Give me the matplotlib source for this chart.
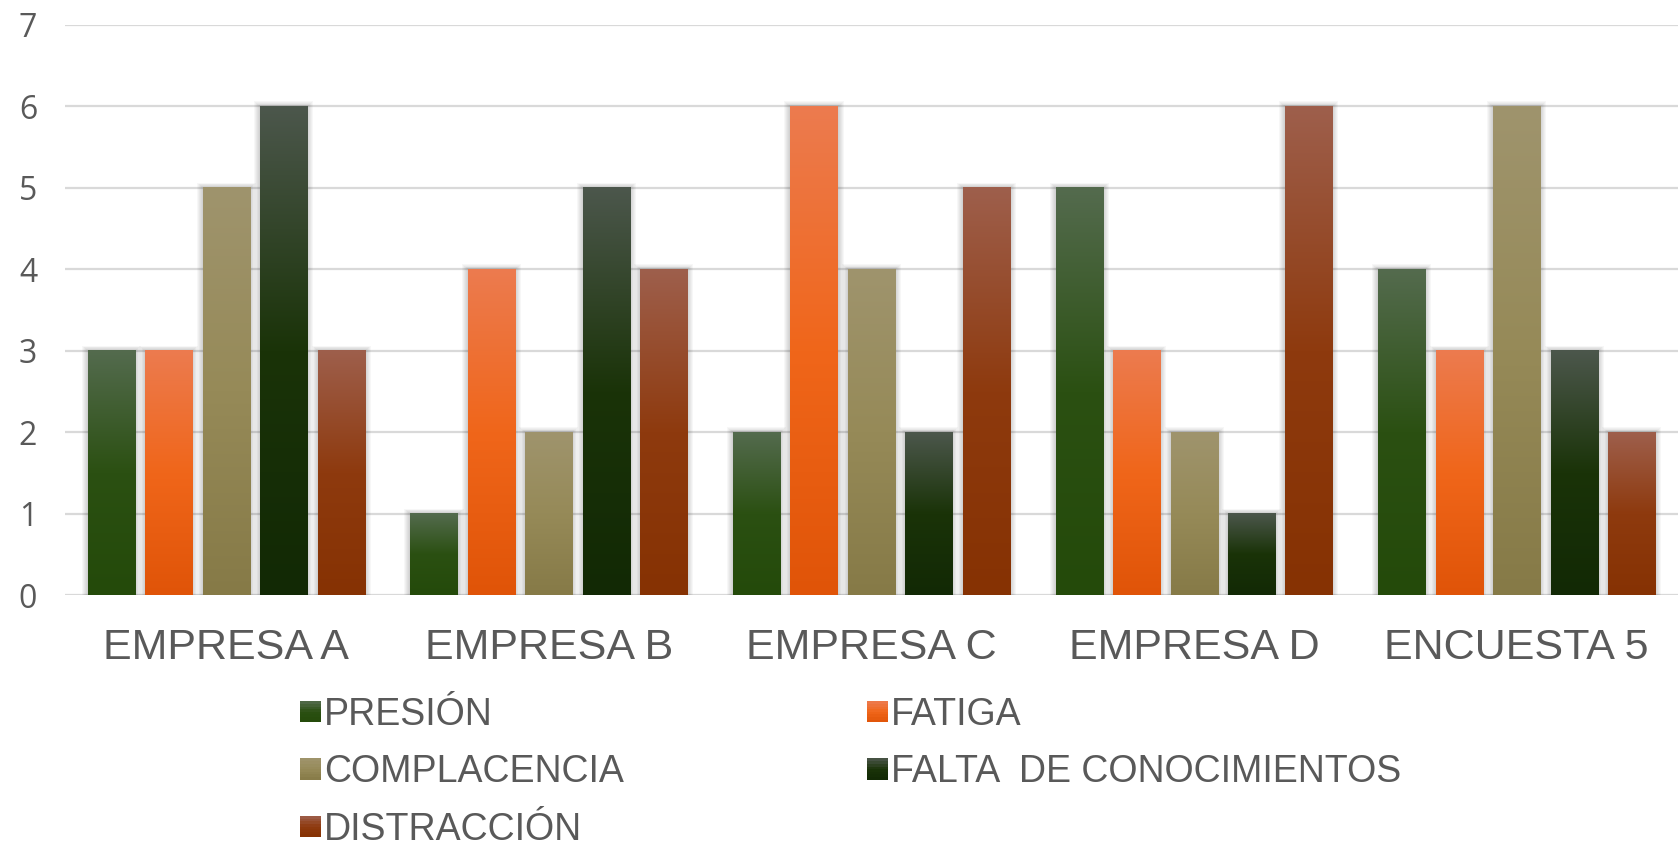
import numpy as np
import matplotlib
matplotlib.use("Agg")
import matplotlib.pyplot as plt
from matplotlib.colors import LinearSegmentedColormap
from matplotlib.patches import Rectangle
from matplotlib.legend_handler import HandlerBase

# data
empresas = ["EMPRESA A", "EMPRESA B", "EMPRESA C", "EMPRESA D", "ENCUESTA 5"]
presion = [3, 1, 2, 5, 4]
fatiga = [3, 4, 6, 3, 3]
complacencia = [5, 2, 4, 2, 6]
falta_conocimientos = [6, 5, 2, 1, 3]
distraccion = [3, 4, 5, 6, 2]

series_names = ["PRESIÓN", "FATIGA", "COMPLACENCIA", "FALTA  DE CONOCIMIENTOS", "DISTRACCIÓN"]
series_values = [presion, fatiga, complacencia, falta_conocimientos, distraccion]

# vertical gradients (top -> bottom) for each series
gradients = [
    ["#546b4e", "#2b5012", "#244a0a"],
    ["#ec7b4f", "#f0661a", "#e05408"],
    ["#9f946d", "#968a58", "#867a47"],
    ["#4c574c", "#1a3308", "#122905"],
    ["#9e5f4c", "#8e3a0e", "#863203"],
]
cmaps = [LinearSegmentedColormap.from_list(f"g{i}", list(zip([0, 0.5, 1], c)))
         for i, c in enumerate(gradients)]

TEXT = "#595959"
GRID = "#d9d9d9"

fig = plt.figure(figsize=(16.78, 8.5), dpi=100)
ax = fig.add_axes([0.0387, 0.30, 0.9613, 0.671])

x = np.arange(len(empresas))
bar_w = 0.146
pitch = 0.178
offsets = (np.arange(len(series_names)) - 2) * pitch

grad = np.linspace(0, 1, 256).reshape(-1, 1)
px_x = 1 / 322.0
px_y = 1 / 81.5

for i, (name, vals) in enumerate(zip(series_names, series_values)):
    bars = ax.bar(x + offsets[i], vals, bar_w, color="none", edgecolor="none",
                  zorder=3, label=name)
    for b in bars:
        bx, by, bw, bh = b.get_x(), b.get_y(), b.get_width(), b.get_height()
        # soft shadow
        for k in range(1, 7):
            ax.add_patch(Rectangle((bx - k * px_x, by), bw + 2 * k * px_x,
                                   bh + k * px_y * 0.8, facecolor="#000000",
                                   alpha=0.03, edgecolor="none", zorder=2))
        ax.imshow(grad, extent=[bx, bx + bw, by, by + bh], aspect="auto",
                  cmap=cmaps[i], origin="upper", zorder=3, interpolation="bilinear")

ax.set_xlim(-0.5, len(empresas) - 0.5)
ax.set_ylim(0, 7)
ax.set_yticks(range(0, 8))
ax.yaxis.grid(True, color=GRID, linewidth=1.6, zorder=0)
ax.set_axisbelow(True)
for s in ax.spines.values():
    s.set_visible(False)
ax.tick_params(axis="both", length=0)
ax.tick_params(axis="y", pad=20, labelsize=23, labelcolor=TEXT)
for t in ax.get_yticklabels():
    t.set_fontfamily("Open Sans")
ax.set_xticks(x)
ax.set_xticklabels(empresas, fontsize=31, color=TEXT, fontfamily="Liberation Sans")
ax.tick_params(axis="x", pad=24)


class GradientSquare(HandlerBase):
    def __init__(self, cmap):
        super().__init__()
        self.cmap = cmap

    def create_artists(self, legend, orig_handle, xdescent, ydescent,
                       width, height, fontsize, trans):
        side = 15
        n = 8
        arts = []
        y0 = -ydescent + (height - side) / 2
        for k in range(n):
            c = self.cmap(1 - (k + 0.5) / n)
            arts.append(Rectangle((-xdescent, y0 + k * side / n), side, side / n + 0.3,
                                  facecolor=c, edgecolor="none", transform=trans))
        return arts


handles = [Rectangle((0, 0), 1, 1) for _ in series_names]
order = [0, 2, 4, 1, 3]
leg = fig.legend([handles[i] for i in order], [series_names[i] for i in order],
                 handler_map={handles[i]: GradientSquare(cmaps[i]) for i in range(5)},
                 ncol=2, loc="upper left", bbox_to_anchor=(300 / 1678, 1 - 697 / 850),
                 frameon=False, prop={"family": "Liberation Sans", "size": 27},
                 labelcolor=TEXT, handlelength=0.4, handleheight=0.7,
                 handletextpad=0.23, columnspacing=6.5, labelspacing=0.57,
                 borderpad=0, borderaxespad=0)

fig.savefig("out.png", dpi=100)
